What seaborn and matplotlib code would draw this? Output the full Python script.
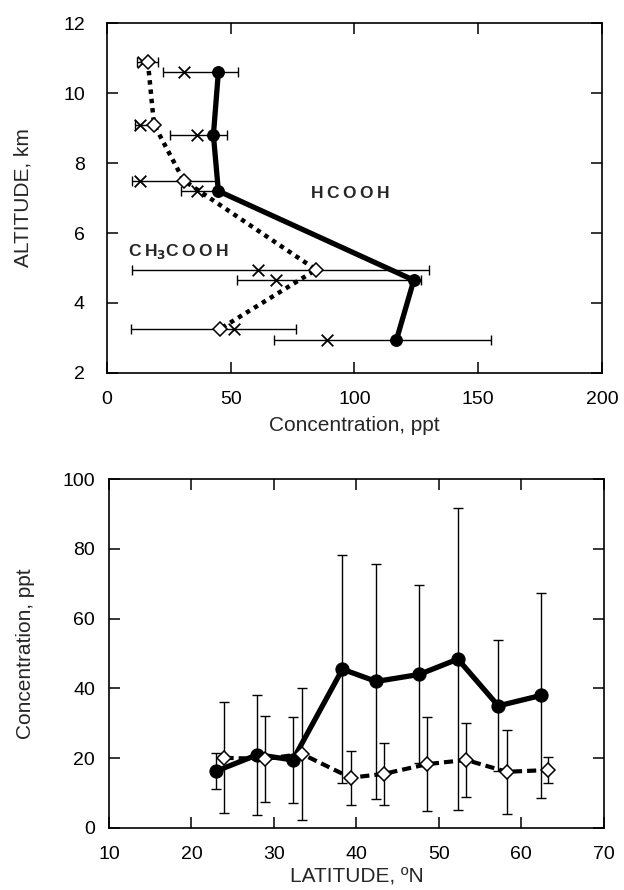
import matplotlib
matplotlib.use("Agg")
import matplotlib.pyplot as plt
import seaborn as sns

# ---- top panel: vertical profiles ----
alt_hcooh = [10.6, 8.8, 7.2, 4.65, 2.95]
conc_hcooh = [45, 43, 45, 124, 117]
med_hcooh = [31, 36.5, 36.5, 68.5, 89]
lo_hcooh = [22.5, 25.5, 30, 52.5, 67.5]
hi_hcooh = [53, 48.5, 44, 127, 155]

alt_ch3 = [10.9, 9.1, 7.5, 4.95, 3.25]
conc_ch3 = [16.5, 19, 31, 84.5, 45.5]
med_ch3 = [14.5, 13.5, 13.5, 61, 51.5]
lo_ch3 = [12, 11.5, 10, 10, 9.5]
hi_ch3 = [20.5, 19.5, 44, 130, 76.5]

# ---- bottom panel: latitude distribution ----
lat_hcooh = [23, 28, 32.3, 38.3, 42.4, 47.6, 52.3, 57.2, 62.4]
val_hcooh = [16.3, 21, 19.5, 45.5, 42, 44, 48.4, 35, 38]
err_hcooh = [5.2, 17.2, 12.4, 32.7, 33.7, 25.5, 43.2, 18.8, 29.3]

lat_ch3 = [24, 28.9, 33.4, 39.3, 43.3, 48.6, 53.3, 58.2, 63.2]
val_ch3 = [20.1, 19.8, 21.2, 14.4, 15.5, 18.3, 19.5, 16.1, 16.6]
err_ch3 = [15.9, 12.3, 18.9, 7.8, 8.8, 13.5, 10.5, 12, 3.6]

sns.set_style("ticks")
plt.rcParams["font.family"] = ["Liberation Sans", "DejaVu Sans"]

fig = plt.figure(figsize=(6.24, 8.9), dpi=100)
ax1 = fig.add_axes([0.1715, 0.581, 0.793, 0.393])
ax2 = fig.add_axes([0.1747, 0.0697, 0.793, 0.392])


def style_axes(ax, ypad):
    for s in ax.spines.values():
        s.set_linewidth(1.2)
        s.set_color("black")
    ax.tick_params(direction="in", length=8, width=1.1, top=True, right=True,
                   labelsize=14, colors="black")
    ax.tick_params(axis="x", pad=13)
    ax.tick_params(axis="y", pad=ypad)


# top panel
for med, alt, lo, hi in [(med_hcooh, alt_hcooh, lo_hcooh, hi_hcooh),
                         (med_ch3, alt_ch3, lo_ch3, hi_ch3)]:
    xerr = [[m - l for m, l in zip(med, lo)], [h - m for m, h in zip(med, hi)]]
    ax1.errorbar(med, alt, xerr=xerr, fmt="none", ecolor="black",
                 elinewidth=1, capsize=3.5, capthick=1, zorder=2)
    sns.scatterplot(x=med, y=alt, marker="x", color="black", s=70,
                    linewidth=1.3, ax=ax1, zorder=3)

sns.lineplot(x=conc_hcooh, y=alt_hcooh, orient="y", sort=False, ax=ax1,
             color="black", linewidth=3.8, marker="o", markersize=8.5,
             markeredgecolor="black", zorder=4)
sns.lineplot(x=conc_ch3, y=alt_ch3, orient="y", sort=False, ax=ax1,
             color="black", linewidth=3.2, linestyle=(0, (1, 1.1)),
             marker="D", markersize=7, markerfacecolor="white",
             markeredgecolor="black", markeredgewidth=1.1, zorder=5)

ax1.text(82.5, 7.14, "H\u2009C\u2009O\u2009O\u2009H", fontsize=12.5,
         fontweight="bold", va="center")
ax1.text(8.6, 5.47, "C\u2009H$_\\mathbf{3}$C\u2009O\u2009O\u2009H",
         fontsize=12.5, fontweight="bold", va="center")

ax1.set_xlim(0, 200)
ax1.set_ylim(2, 12)
ax1.set_xticks([0, 50, 100, 150, 200])
ax1.set_yticks([2, 4, 6, 8, 10, 12])
ax1.set_xlabel("Concentration, ppt", fontsize=15, labelpad=6)
ax1.set_ylabel("ALTITUDE, km", fontsize=15, labelpad=22)
style_axes(ax1, 16)

# bottom panel
ax2.errorbar(lat_hcooh, val_hcooh, yerr=err_hcooh, fmt="none", ecolor="black",
             elinewidth=1, capsize=3.5, capthick=1, zorder=2)
ax2.errorbar(lat_ch3, val_ch3, yerr=err_ch3, fmt="none", ecolor="black",
             elinewidth=1, capsize=3.5, capthick=1, zorder=2)
sns.lineplot(x=lat_hcooh, y=val_hcooh, ax=ax2, color="black", linewidth=3.8,
             marker="o", markersize=9.5, markeredgecolor="black", zorder=4)
sns.lineplot(x=lat_ch3, y=val_ch3, ax=ax2, color="black", linewidth=3,
             linestyle=(0, (2.2, 1.2)), marker="D", markersize=7,
             markerfacecolor="white", markeredgecolor="black",
             markeredgewidth=1.1, zorder=5)

ax2.set_xlim(10, 70)
ax2.set_ylim(0, 100)
ax2.set_xticks([10, 20, 30, 40, 50, 60, 70])
ax2.set_yticks([0, 20, 40, 60, 80, 100])
ax2.set_xlabel("LATITUDE, \u00baN", fontsize=15, labelpad=3)
ax2.set_ylabel("Concentration, ppt", fontsize=15, labelpad=20)
style_axes(ax2, 10)

fig.savefig("out.png", dpi=100)
